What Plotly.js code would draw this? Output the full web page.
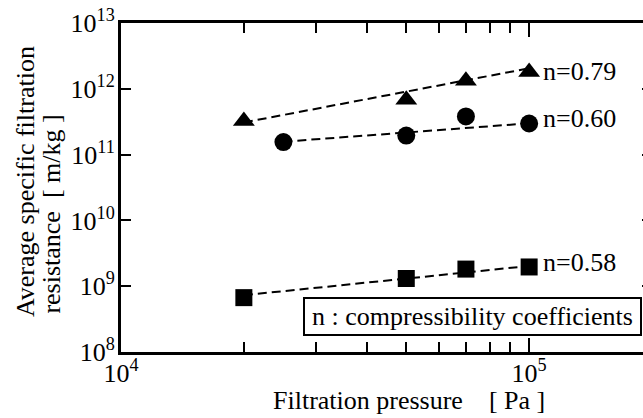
<!DOCTYPE html>
<html>
<head>
<meta charset="utf-8">
<script src="https://cdn.plot.ly/plotly-3.0.1.min.js"></script>
<style>
html, body { margin: 0; padding: 0; overflow: hidden; background: #fff; }
#chart { width: 660px; height: 418px; }
</style>
</head>
<body>
<div id="chart"></div>
<script>
// ---- data ----
const triX = [2e4, 5e4, 7e4, 1e5];
const triY = [3.25e11, 6.8e11, 1.32e12, 1.8e12];
const cirX = [2.5e4, 5e4, 7e4, 1e5];
const cirY = [1.55e11, 1.95e11, 3.8e11, 2.97e11];
const sqX  = [2e4, 5e4, 7e4, 1e5];
const sqY  = [6.7e8, 1.31e9, 1.82e9, 1.96e9];

const triFitX = [2e4, 1e5];
const triFitY = [3.08e11, 2.05e12];
const cirFitX = [2.5e4, 1e5];
const cirFitY = [1.57e11, 2.99e11];
const sqFitX  = [2e4, 1e5];
const sqFitY  = [7.3e8, 2.03e9];

const nLabels = ['n=0.79', 'n=0.60', 'n=0.58'];

const xTickVals = [1e4, 1e5];
const xTickText = ['10<sup>4</sup>', '10<sup>5</sup>'];
const xMinorVals = [2e4, 3e4, 4e4, 5e4, 6e4, 7e4, 8e4, 9e4, 2e5];
const yTickVals = [1e8, 1e9, 1e10, 1e11, 1e12, 1e13];
const yTickText = ['10<sup>8</sup>', '10<sup>9</sup>', '10<sup>10</sup>', '10<sup>11</sup>', '10<sup>12</sup>', '10<sup>13</sup>'];

const xTitle = 'Filtration pressure\u00a0\u00a0\u00a0\u00a0[ Pa ]';
const yTitle1 = 'Average specific filtration';
const yTitle2 = 'resistance\u00a0\u00a0[ m/kg ]';
const legendText = 'n : compressibility coefficients';

// ---- styling ----
const FONT = '"Liberation Serif", "DejaVu Serif", "Times New Roman", serif';
const FS = 26;
const dashLine = { color: '#000', width: 2, dash: '9px,5px' };

const traces = [
  { x: triFitX, y: triFitY, mode: 'lines', line: dashLine, hoverinfo: 'skip' },
  { x: cirFitX, y: cirFitY, mode: 'lines', line: dashLine, hoverinfo: 'skip' },
  { x: sqFitX,  y: sqFitY,  mode: 'lines', line: dashLine, hoverinfo: 'skip' },
  { x: triX, y: triY, mode: 'markers', marker: { symbol: 'triangle-up', size: 19, color: '#000' } },
  { x: cirX, y: cirY, mode: 'markers', marker: { symbol: 'circle', size: 18, color: '#000' } },
  { x: sqX,  y: sqY,  mode: 'markers', marker: { symbol: 'square', size: 17, color: '#000' } }
];

const lastIdx = triX.length - 1;
const labelSets = [
  { x: triX[lastIdx], y: triY[lastIdx], shift: 1 },
  { x: cirX[lastIdx], y: cirY[lastIdx], shift: 5 },
  { x: sqX[lastIdx],  y: sqY[lastIdx],  shift: 4 }
];

const annotations = labelSets.map((s, i) => ({
  x: Math.log10(s.x), y: Math.log10(s.y), xref: 'x', yref: 'y',
  text: nLabels[i], showarrow: false, xanchor: 'left', yanchor: 'middle',
  xshift: 12, yshift: s.shift,
  font: { family: FONT, size: FS, color: '#000' }
}));

annotations.push({
  xref: 'paper', yref: 'paper', x: 0.662, y: 0.108,
  text: legendText, showarrow: false, xanchor: 'center', yanchor: 'middle',
  width: 333, height: 33, borderpad: 1, borderwidth: 2, bordercolor: '#000', bgcolor: '#fff',
  font: { family: FONT, size: FS, color: '#000' }
});

annotations.push({
  xref: 'paper', yref: 'paper', x: 0.5425, y: -0.146,
  text: xTitle, showarrow: false, xanchor: 'center', yanchor: 'middle',
  font: { family: FONT, size: FS, color: '#000' }
});
annotations.push({
  xref: 'paper', yref: 'paper', x: -0.180, y: 0.100,
  text: yTitle1, showarrow: false, textangle: -90, xanchor: 'center', yanchor: 'bottom',
  font: { family: FONT, size: FS, color: '#000' }
});
annotations.push({
  xref: 'paper', yref: 'paper', x: -0.130, y: 0.112,
  text: yTitle2, showarrow: false, textangle: -90, xanchor: 'center', yanchor: 'bottom',
  font: { family: FONT, size: FS, color: '#000' }
});

const layout = {
  width: 660, height: 418,
  margin: { l: 121, r: 8, t: 23, b: 66, pad: 0 },
  paper_bgcolor: '#fff', plot_bgcolor: '#fff',
  showlegend: false,
  font: { family: FONT, size: FS, color: '#000' },
  xaxis: {
    type: 'log', range: [4, Math.log10(2e5)],
    tickmode: 'array', tickvals: xTickVals, ticktext: xTickText,
    ticks: 'inside', ticklen: 14, tickwidth: 2, tickcolor: '#000',
    ticklabelstandoff: -4,
    minor: { tickmode: 'array', tickvals: xMinorVals, ticks: 'inside', ticklen: 10, tickwidth: 2, tickcolor: '#000', showgrid: false },
    showline: true, linewidth: 3, linecolor: '#000', mirror: 'ticks',
    showgrid: false, zeroline: false,
    tickfont: { family: FONT, size: FS, color: '#000' }
  },
  yaxis: {
    type: 'log', range: [8, 13],
    tickmode: 'array', tickvals: yTickVals, ticktext: yTickText,
    ticks: 'inside', ticklen: 10, tickwidth: 2, tickcolor: '#000',
    ticklabelstandoff: -2,
    showline: true, linewidth: 3, linecolor: '#000', mirror: 'ticks',
    showgrid: false, zeroline: false,
    tickfont: { family: FONT, size: FS, color: '#000' }
  },
  annotations: annotations
};

Plotly.newPlot('chart', traces, layout, { staticPlot: true, displayModeBar: false });
</script>
</body>
</html>
